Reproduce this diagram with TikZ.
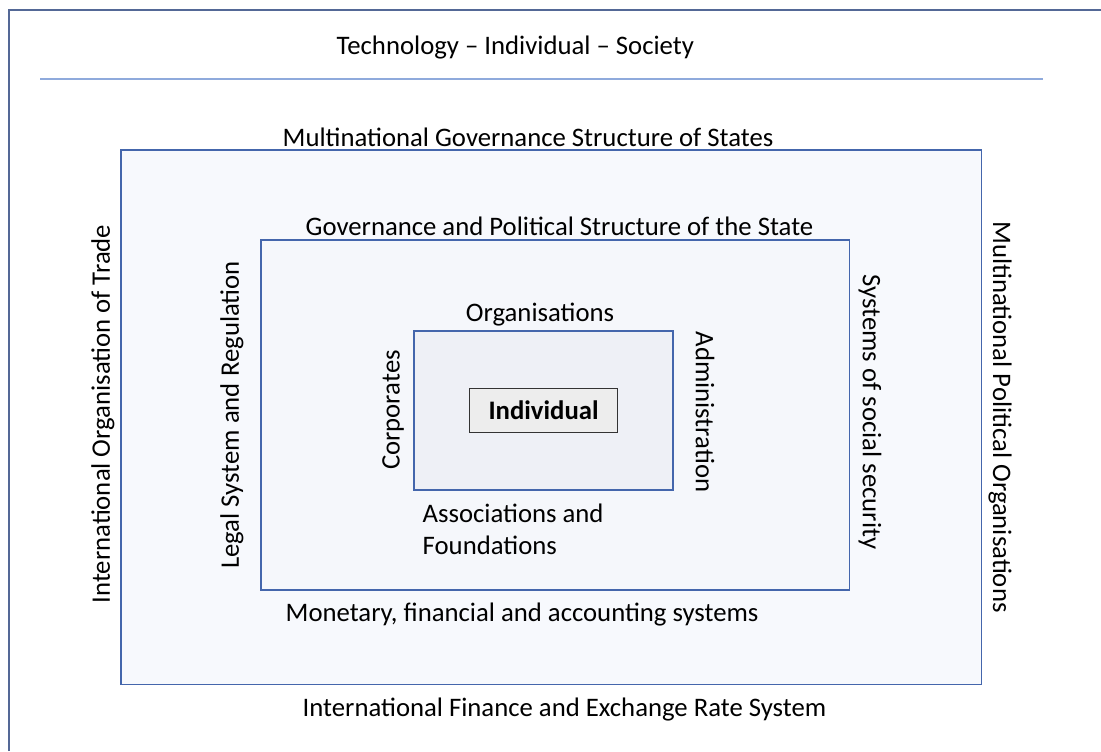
\documentclass[tikz,border=0pt]{standalone}
\usepackage{fontspec}
\setmainfont{Carlito}
\usetikzlibrary{positioning}
\definecolor{frameblue}{RGB}{84,104,150}
\definecolor{boxblue}{RGB}{68,102,172}
\definecolor{ruleblue}{RGB}{143,170,220}
\definecolor{paleblue}{RGB}{247,249,253}
\definecolor{midblue}{RGB}{245,247,251}
\definecolor{coreblue}{RGB}{238,240,246}
\definecolor{indgray}{RGB}{237,237,237}

\begin{document}
\begin{tikzpicture}[x=0.01cm,y=-0.01cm,
		every node/.style={font=\fontsize{7.6}{9.2}\selectfont},
		layer/.style={draw=boxblue,line width=0.45pt,inner sep=0pt,outer sep=0pt},
		lbl/.style={inner sep=0pt}]
	\useasboundingbox (0,0) rectangle (1101,751);
	
	%----------------------------------------------------------------
	\draw [frameblue,line width=0.6pt] (9,751) -- (9,10) -- (1101,10);
	\node(title) [lbl,anchor=west] at (336,48) {Technology -- Individual -- Society};
	\draw [ruleblue,line width=0.45pt] (40,79) -- (1043,79);
	
	%----------------------------------------------------------------
	\node(states) [layer,fill=paleblue,minimum width=8.6cm,minimum height=5.34cm,anchor=north west] at (121,150) {};
	\node(state) [layer,fill=midblue,minimum width=5.88cm,minimum height=3.5cm,anchor=north west] at (261,240) {};
	\node(orgs) [layer,fill=coreblue,minimum width=2.59cm,minimum height=1.59cm,anchor=north west] at (414,331) {};
	\node(individual) [draw=black!80,line width=0.45pt,fill=indgray,minimum width=1.48cm,minimum height=0.44cm,inner sep=0pt] at (orgs.center) {\textbf{Individual}};
	
	%----------------------------------------------------------------
	\node(multigov) [lbl,anchor=west] at (282,137) {Multinational Governance Structure of States};
	\node(finance) [lbl,anchor=west] at (302,709) {International Finance and Exchange Rate System};
	\node(trade) [lbl,rotate=90] at (103,414) {International Organisation of Trade};
	\node(political) [lbl,rotate=-90] at (1000,417) {Multinational Political Organisations};
	
	%----------------------------------------------------------------
	\node(gov) [lbl,anchor=west] at (305,226) {Governance and Political Structure of the State};
	\node(monetary) [lbl,anchor=west] at (285,614) {Monetary, financial and accounting systems};
	\node(legal) [lbl,rotate=90] at (232,415) {Legal System and Regulation};
	\node(social) [lbl,rotate=-90] at (870,412) {Systems of social security};
	
	%----------------------------------------------------------------
	\node(orglabel) [lbl] at (540,315) {Organisations};
	\node(assoc) [lbl,align=left,anchor=north west] at (422,503) {Associations and\\Foundations};
	\node(corp) [lbl,rotate=90] at (393,410) {Corporates};
	\node(admin) [lbl,rotate=-90] at (705,412) {Administration};
	
\end{tikzpicture}
\end{document}
